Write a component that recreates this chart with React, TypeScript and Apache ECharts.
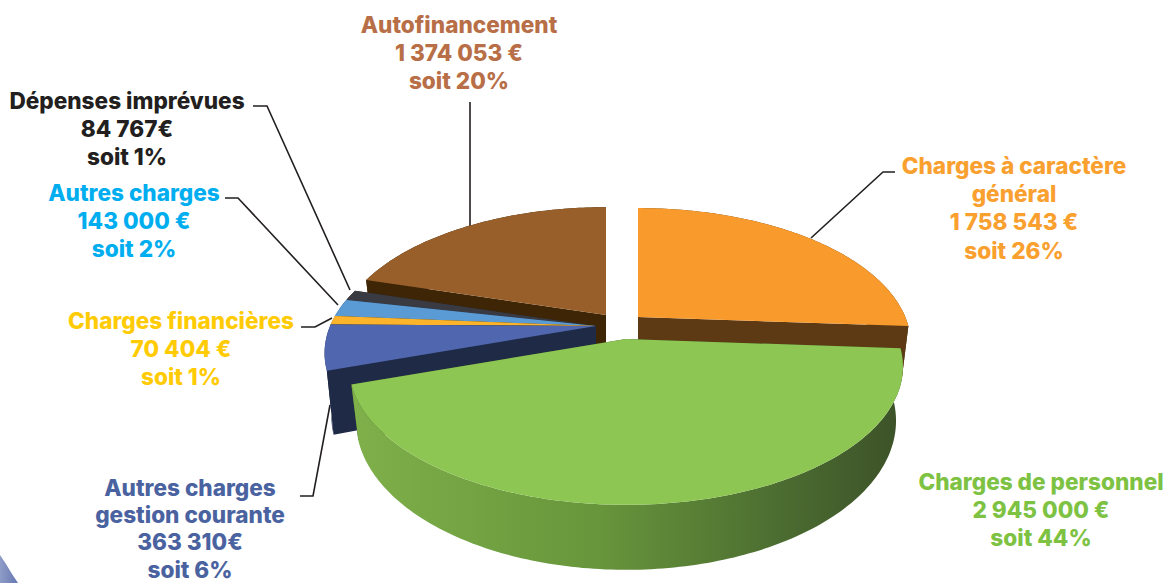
import React, { useEffect, useRef } from "react";
import * as echarts from "echarts";

const categories = [
  "Charges à caractère général",
  "Charges de personnel",
  "Autres charges gestion courante",
  "Charges financières",
  "Autres charges",
  "Dépenses imprévues",
  "Autofinancement",
];
const values = [1758543, 2945000, 363310, 70404, 143000, 84767, 1374053];
const labelTexts = [
  "Charges à caractère\ngénéral\n1 758 543 €\nsoit 26%",
  "Charges de personnel\n2 945 000 €\nsoit 44%",
  "Autres charges\ngestion courante\n363 310€\nsoit 6%",
  "Charges financières\n70 404 €\nsoit 1%",
  "Autres charges\n143 000 €\nsoit 2%",
  "Dépenses imprévues\n84 767€\nsoit 1%",
  "Autofinancement\n1 374 053 €\nsoit 20%",
];
const labelColors = ["#F9A02F", "#7DC242", "#4A63A0", "#FFCB05", "#00AEEF", "#231F20", "#B86E46"];
const labelCenters = [
  [1014, 151], [1041, 467], [190, 473], [181, 306], [134, 178], [127, 86], [459, 10],
];
const labelSteps = [28.3, 28.3, 27.4, 28.3, 28.3, 28.3, 28.3];
const leaderLines = [
  [[895, 172], [883, 172], [811, 238]],
  [],
  [[300, 496], [313, 496], [330, 405]],
  [[301, 327], [315, 327], [332, 318]],
  [[225, 198], [238, 198], [338, 305]],
  [[253, 106], [267, 106], [350, 290]],
  [[470, 102], [470, 226]],
];
const topColors = ["#F99A2C", "#8EC653", "#5067AF", "#FDB42A", "#5B9BD5", "#3A3A42", "#985F2A"];
const wallColors = ["#5D3A14", "#3C5128", "#1F2A47", "#8A6210", "#2E4E6B", "#222228", "#3D2505"];
const apexes = [[638, 317], [626, 339], [596, 326], [596, 326], [596, 326], [596, 326], [606, 315]];
const radiusScale = [0.99, 1.005, 0.985, 0.985, 0.985, 0.985, 0.98];
const depths = [53, 52, 60, 60, 60, 60, 53];
const drawOrder = [6, 5, 4, 3, 2, 0, 1];

const RX = 270;
const RY = 132;
const PERSPECTIVE = 0.2;
const BOTTOM_SHRINK = 0.975;

const total = values.reduce((a, b) => a + b, 0);
const starts: number[] = [];
values.reduce((acc, v, i) => {
  starts[i] = acc;
  return acc + v;
}, 0);

function project(i: number, deg: number, bottom: boolean): number[] {
  const a = (deg * Math.PI) / 180;
  const x = Math.sin(a);
  const y = -Math.cos(a);
  const w = 1 - PERSPECTIVE * y;
  const k = radiusScale[i];
  const sx = (RX * k * x) / w;
  const sy = (RY * k * y) / w;
  const [ax, ay] = apexes[i];
  return bottom ? [ax + sx * BOTTOM_SHRINK, ay + sy + depths[i] / w] : [ax + sx, ay + sy];
}

function arc(i: number, a0: number, a1: number, bottom: boolean): number[][] {
  const n = Math.max(2, Math.ceil(Math.abs(a1 - a0)));
  const pts: number[][] = [];
  for (let k = 0; k <= n; k++) pts.push(project(i, a0 + ((a1 - a0) * k) / n, bottom));
  return pts;
}

function renderSlice(params: any, api: any) {
  const idx = api.value(0) as number;
  const a0 = (starts[idx] / total) * 360;
  const a1 = a0 + ((api.value(1) as number) / total) * 360;
  const [ax, ay] = apexes[idx];
  const apexBottomY = ay + depths[idx];
  const top = arc(idx, a0, a1, false);
  const bot = arc(idx, a0, a1, true);
  const wall = wallColors[idx];
  const outerFill =
    idx === 1
      ? new echarts.graphic.LinearGradient(0, 0, 1, 0, [
          { offset: 0, color: "#7FB04A" },
          { offset: 0.45, color: "#67953B" },
          { offset: 0.8, color: "#4A6A30" },
          { offset: 1, color: "#3C5128" },
        ])
      : wall;
  const radial = (p: number[], q: number[]) => ({
    type: "polygon",
    shape: { points: [[ax, ay], p, q, [ax, apexBottomY]] },
    style: { fill: wall },
  });
  return {
    type: "group",
    children: [
      radial(top[0], bot[0]),
      radial(top[top.length - 1], bot[bot.length - 1]),
      {
        type: "polygon",
        shape: { points: top.concat(bot.slice().reverse()) },
        style: { fill: outerFill },
      },
      {
        type: "polygon",
        shape: { points: [[ax, ay], ...top] },
        style: { fill: topColors[idx] },
      },
    ],
  };
}

export default function App() {
  const ref = useRef<HTMLDivElement>(null);
  useEffect(() => {
    const chart = echarts.init(ref.current!, null, { renderer: "svg" });
    const graphic: any[] = [
      {
        type: "polygon",
        shape: { points: [[0, 555], [6, 564], [12, 574], [18, 583], [0, 583]] },
        style: {
          fill: new echarts.graphic.LinearGradient(1, 0, 0, 0, [
            { offset: 0, color: "#6577B0" },
            { offset: 1, color: "#8F9CC8" },
          ]),
        },
      },
    ];
    leaderLines.forEach((pts) => {
      if (pts.length)
        graphic.push({
          type: "polyline",
          shape: { points: pts },
          style: { stroke: "#231F20", lineWidth: 1.6, fill: "none" },
        });
    });
    categories.forEach((name, i) => {
      labelTexts[i].split("\n").forEach((line, n) => {
        graphic.push({
          type: "text",
          name: name + " " + n,
          x: labelCenters[i][0],
          y: labelCenters[i][1] + 14.15 + n * labelSteps[i],
          style: {
            text: line,
            fill: labelColors[i],
            font: '800 22.6px Inter, "Open Sans", sans-serif',
            align: "center",
            verticalAlign: "middle",
          },
        });
      });
    });
    chart.setOption({
      animation: false,
      backgroundColor: "#FFFFFF",
      graphic,
      series: [
        {
          type: "custom",
          coordinateSystem: "none",
          renderItem: renderSlice,
          silent: true,
          data: drawOrder.map((i) => [i, values[i]]),
        },
      ],
    });
    return () => chart.dispose();
  }, []);
  return (
    <div
      ref={ref}
      style={{ position: "fixed", left: 0, top: 0, width: 1170, height: 583 }}
    />
  );
}
